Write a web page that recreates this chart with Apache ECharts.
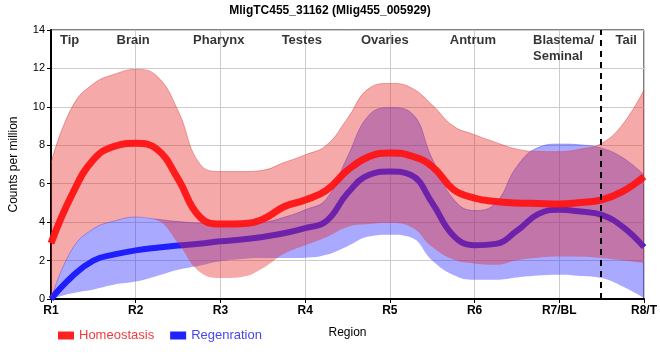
<!DOCTYPE html>
<html><head><meta charset="utf-8">
<script src="https://cdn.jsdelivr.net/npm/echarts@6/dist/echarts.min.js"></script>
<style>html,body{margin:0;padding:0;background:#fff}#c{width:660px;height:360px}</style>
</head><body><div id="c"></div>
<script>
const tickLabels = ['R1','R2','R3','R4','R5','R6','R7/BL','R8/T'];
const xs = [1,1.25,1.5,1.75,2,2.25,2.5,2.75,3,3.25,3.5,3.75,4,4.25,4.5,4.75,5,5.25,5.5,5.75,6,6.25,6.5,6.75,7,7.25,7.5,7.75,8];
const homeoMean = [2.9,5.45,7.25,7.95,8.1,7.8,6.25,4.3,3.9,3.92,4.15,4.8,5.15,5.65,6.7,7.4,7.6,7.45,6.9,5.7,5.25,5.07,5.0,4.97,4.95,5.02,5.16,5.6,6.37];
const homeoUpper = [7.08,10.0,11.2,11.7,11.95,11.6,9.8,7.07,6.63,6.63,6.7,7.1,7.5,8.0,9.4,10.95,11.22,11.0,10.1,9.0,8.55,8.15,7.8,7.68,7.67,7.8,8.1,9.1,10.88];
const homeoLower = [0.0,2.6,3.65,4.06,4.26,4.1,2.9,1.43,1.09,1.15,1.6,2.35,2.8,3.22,3.75,3.9,3.95,3.75,2.7,2.05,1.85,1.78,2.02,2.15,2.21,2.2,2.13,2.0,1.87];
const regenMean = [0.0,1.17,2.0,2.32,2.53,2.67,2.78,2.87,3.0,3.1,3.23,3.42,3.69,4.05,5.5,6.45,6.63,6.45,5.0,3.3,2.8,2.87,3.55,4.42,4.64,4.55,4.38,3.75,2.7];
const regenUpper = [0.0,2.6,3.65,4.06,4.26,4.15,4.03,3.95,3.88,3.9,3.98,4.25,4.64,5.2,7.4,9.55,9.96,9.7,7.3,5.2,4.6,5.0,6.9,7.88,8.06,8.02,7.85,7.35,6.46];
const regenLower = [0.0,0.3,0.5,0.76,0.91,1.2,1.52,1.73,1.96,2.08,2.13,2.13,2.15,2.3,2.75,3.25,3.34,3.2,2.0,1.25,1.0,1.0,1.12,1.22,1.26,1.2,1.09,0.65,0.05];
const regionNames = ['Tip','Brain','Pharynx','Testes','Ovaries','Antrum','Blastema/\nSeminal','Tail'];
const regionPos = [1.22,1.97,2.98,3.96,4.94,5.98,6.69,7.79];
const tailDivider = 7.49;

const diff = (u,l) => u.map((v,i)=> +(v-l[i]).toFixed(3));
const SM = 0.45;
const FONT = 'Liberation Sans, Arial, sans-serif';
const STEP = 4; // points per region interval
const chart = echarts.init(document.getElementById('c'), null, {renderer:'canvas'});
chart.setOption({
  animation:false,
  title:{text:'MligTC455_31162 (Mlig455_005929)', left:'center', top:0,
    textStyle:{fontSize:12, fontWeight:'bold', color:'#000', fontFamily:FONT}},
  grid:{left:50, right:10, top:30, bottom:61, show:true, borderColor:'#000', borderWidth:1},
  legend:{left:53, top:324, itemWidth:16, itemHeight:8, itemGap:16, icon:'rect',
    data:[{name:'Homeostasis', textStyle:{color:'#f03c3c'}},{name:'Regenration', textStyle:{color:'#4646f0'}}],
    textStyle:{fontSize:13, fontFamily:FONT}},
  xAxis:[{type:'category', data:xs.map(String), boundaryGap:false, name:'Region', nameLocation:'middle', nameGap:28,
    nameMoveOverlap:false,
    nameTextStyle:{color:'#000', fontSize:12, fontFamily:FONT},
    axisLine:{lineStyle:{color:'#000', width:2}},
    axisTick:{show:true, interval:STEP-1, length:4, lineStyle:{color:'#000', width:1}},
    axisLabel:{interval:STEP-1, formatter:(v,i)=>tickLabels[Math.round(i/STEP)]||'', color:'#000', fontSize:12, fontWeight:'bold', margin:6,
      fontFamily:FONT},
    splitLine:{show:true, interval:STEP-1, lineStyle:{color:'#cccccc', width:1}}},
    {type:'value', min:1, max:8, show:false}],
  yAxis:{type:'value', min:0, max:14, interval:2, name:'Counts per million', nameLocation:'middle', nameGap:31,
    nameMoveOverlap:false,
    nameTextStyle:{color:'#000', fontSize:12, fontFamily:FONT},
    axisLine:{show:true, lineStyle:{color:'#000', width:2}}, axisTick:{show:true, length:4, lineStyle:{color:'#000'}},
    axisLabel:{color:'#000', fontSize:11, margin:6, fontFamily:FONT},
    splitLine:{show:true, lineStyle:{color:'#cccccc', width:1}}},
  series:[
    {name:'rl', type:'line', z:1, stack:'r', data:regenLower, smooth:SM, symbol:'none', lineStyle:{opacity:0}, silent:true},
    {name:'rb', type:'line', z:1, stack:'r', data:diff(regenUpper, regenLower), smooth:SM, symbol:'none',
      lineStyle:{width:1, color:'rgba(60,60,255,0.45)'}, areaStyle:{color:'rgba(40,40,255,0.4)', opacity:1}, silent:true},
    {name:'Regenration', type:'line', z:2, data:regenMean, smooth:SM, symbol:'none', color:'#2222ff',
      lineStyle:{width:6, color:'#1e1eff'}},
    {name:'hl', type:'line', z:3, stack:'h', data:homeoLower, smooth:SM, symbol:'none', lineStyle:{opacity:0}, silent:true},
    {name:'hb', type:'line', z:3, stack:'h', data:diff(homeoUpper, homeoLower), smooth:SM, symbol:'none',
      lineStyle:{width:1, color:'rgba(220,60,60,0.45)'}, areaStyle:{color:'rgba(230,40,40,0.4)', opacity:1}, silent:true},
    {name:'Homeostasis', type:'line', z:4, data:homeoMean, smooth:SM, symbol:'none', color:'#ff2222',
      lineStyle:{width:7, color:'rgba(255,20,20,0.95)'}},
    {name:'regions', type:'scatter', z:5, xAxisIndex:1, symbolSize:0, silent:true,
      data:regionNames.map((n,i)=>({value:[regionPos[i], 13.45],
        label:{show:true, formatter:n, position:'inside', fontWeight:'bold', fontSize:13, color:'#000', fontFamily:FONT,
          lineHeight:16, align: i===6 ? 'left' : 'center', verticalAlign:'top', offset:[0,-8]}})),
      markLine:{symbol:'none', silent:true, label:{show:false},
        lineStyle:{color:'#000', type:[6,5], width:2}, data:[{xAxis:tailDivider}]}}
  ]
});
</script></body></html>
